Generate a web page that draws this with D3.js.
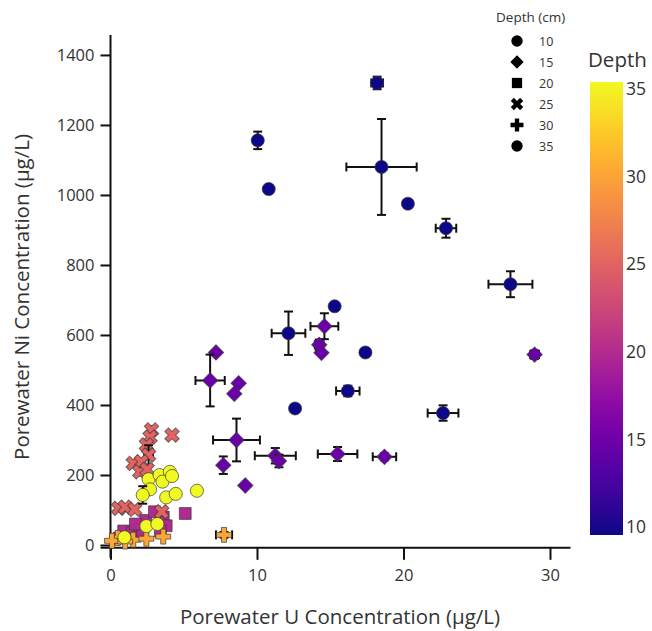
<!DOCTYPE html>
<html>
<head>
<meta charset="utf-8">
<script src="https://cdn.jsdelivr.net/npm/d3@7"></script>
<style>
  body { margin: 0; background: #fff; }
  svg { display: block; font-family: "Open Sans", "Noto Sans", sans-serif; }
</style>
</head>
<body>
<svg id="chart" width="652" height="631"></svg>
<script>
// ---- data: [U (µg/L), Ni (µg/L), U error, Ni error] ----
const depth10 = [
  [18.2, 1320, 0.4, 18], [10.05, 1156, 0, 25], [10.8, 1017, 0, 0], [18.5, 1080, 2.4, 137],
  [20.3, 975, 0, 0], [22.9, 905, 0.7, 27], [27.3, 745, 1.5, 37], [15.3, 682, 0, 0],
  [12.15, 605, 1.15, 62], [17.4, 550, 0, 0], [16.2, 440, 0.8, 15], [12.6, 390, 0, 0],
  [22.7, 377, 1.05, 22]
];
const depth15 = [
  [28.95, 544, 0.3, 12], [14.6, 625, 0.95, 37], [14.25, 572, 0.3, 15], [14.4, 549, 0, 0],
  [7.2, 550, 0, 0], [6.8, 470, 1.0, 74], [8.75, 462, 0, 0], [8.45, 432, 0, 0],
  [8.6, 300, 1.6, 61], [11.25, 255, 1.4, 22], [11.5, 240, 0, 18], [7.7, 228, 0, 25],
  [9.2, 170, 0, 0], [15.5, 260, 1.35, 20], [18.7, 252, 0.8, 10]
];
const depth20 = [
  [5.1, 90, 0, 0], [0.9, 40, 0, 0], [1.5, 35, 0, 0], [2.0, 55, 0, 0], [2.4, 70, 0, 0],
  [3.0, 95, 0, 0], [3.6, 80, 0, 0], [3.8, 55, 0, 0], [2.2, 30, 0, 0], [3.4, 40, 0, 0],
  [0.6, 20, 0, 0], [1.7, 60, 0, 0]
];
const depth25 = [
  [2.8, 329, 0, 10], [2.7, 308, 0, 0], [2.45, 286, 0, 0], [2.6, 257, 0.3, 28], [1.55, 233, 0, 0],
  [2.1, 238, 0, 0], [2.0, 209, 0, 0], [2.5, 216, 0, 0], [4.2, 314, 0, 0], [0.55, 105, 0, 0],
  [1.0, 108, 0, 0], [1.65, 102, 0, 0], [3.5, 95, 0, 0]
];
const depth30 = [
  [7.75, 29, 0.55, 8], [0.5, 20, 0, 0], [1.55, 15, 0, 0], [2.45, 18, 0, 0], [3.6, 24, 0, 0],
  [0.1, 12, 0, 0], [1.0, 10, 0, 0]
];
const depth35 = [
  [2.6, 188, 0, 0], [3.35, 200, 0, 0], [3.55, 181, 0, 0], [4.05, 209, 0, 0], [4.2, 197, 0, 0],
  [2.7, 159, 0, 0], [2.2, 143, 0, 25], [3.8, 136, 0, 0], [4.45, 146, 0, 0], [5.9, 155, 0.2, 10],
  [2.45, 54, 0, 0], [3.2, 60, 0, 0], [0.95, 22, 0, 0]
];
const depths = [10, 15, 20, 25, 30, 35];
const xTicks = [0, 10, 20, 30];
const yTicks = [0, 200, 400, 600, 800, 1000, 1200, 1400];
const colorTicks = [10, 15, 20, 25, 30, 35];
const legendLabels = ["10", "15", "20", "25", "30", "35"];

// ---- setup ----
const svg = d3.select("#chart");
const x = d3.scaleLinear().domain([0, 31.4]).range([110.5, 570.5]);
const y = d3.scaleLinear().domain([-8, 1457]).range([547.8, 35]);
const color = d3.scaleSequential(d3.interpolatePlasma).domain([10, 35]);

const shapeFor = {
  10: { type: d3.symbolCircle, size: 135, rot: 0 },
  15: { type: d3.symbolSquare, size: 118, rot: 45 },
  20: { type: d3.symbolSquare, size: 140, rot: 0 },
  25: { type: d3.symbolCross, size: 130, rot: 45 },
  30: { type: d3.symbolCross, size: 125, rot: 0 },
  35: { type: d3.symbolCircle, size: 135, rot: 0 }
};

// ---- axes ----
const axisColor = "#111";
const xAxis = svg.append("g").attr("transform", `translate(0,${y(-8)})`)
  .call(d3.axisBottom(x).tickValues(xTicks).tickFormat(d3.format("d")).tickSize(12).tickPadding(9));
const yAxis = svg.append("g").attr("transform", `translate(${x(0)},0)`)
  .call(d3.axisLeft(y).tickValues(yTicks).tickFormat(d3.format("d")).tickSize(10).tickPadding(6));
[xAxis, yAxis].forEach(g => {
  g.selectAll("path, line").attr("stroke", axisColor).attr("stroke-width", 2);
  g.selectAll("text").attr("font-size", 16.5).attr("fill", "#333")
    .attr("font-family", "'Open Sans', sans-serif");
});
xAxis.select(".domain").attr("d", `M${x(0) - 10},0H${x(31.4)}`);
yAxis.select(".domain").attr("d", `M0,${y(-8) + 10}V${y(1457)}`);

svg.append("text").attr("x", 340).attr("y", 624).attr("text-anchor", "middle")
  .attr("font-size", 20.5).attr("fill", "#333").text("Porewater U Concentration (µg/L)");
svg.append("text").attr("transform", "translate(29,297) rotate(-90)").attr("text-anchor", "middle")
  .attr("font-size", 20.5).attr("fill", "#333").text("Porewater Ni Concentration (µg/L)");

// ---- points ----
const groups = [depth10, depth15, depth20, depth25, depth30, depth35];
const plot = svg.append("g");
groups.forEach((arr, gi) => {
  const d = depths[gi];
  const sh = shapeFor[d];
  const g = plot.append("g");
  arr.forEach(p => {
    const [u, ni, ue, ne] = p;
    const cx = x(u), cy = y(ni);
    const eb = g.append("g").attr("stroke", "#111").attr("stroke-width", 2);
    if (ue > 0) {
      eb.append("line").attr("x1", x(u - ue)).attr("x2", x(u + ue)).attr("y1", cy).attr("y2", cy);
      [u - ue, u + ue].forEach(v => eb.append("line").attr("x1", x(v)).attr("x2", x(v))
        .attr("y1", cy - 4.5).attr("y2", cy + 4.5));
    }
    if (ne > 0) {
      eb.append("line").attr("x1", cx).attr("x2", cx).attr("y1", y(ni - ne)).attr("y2", y(ni + ne));
      [ni - ne, ni + ne].forEach(v => eb.append("line").attr("x1", cx - 4.5).attr("x2", cx + 4.5)
        .attr("y1", y(v)).attr("y2", y(v)));
    }
    g.append("path")
      .attr("d", d3.symbol().type(sh.type).size(sh.size)())
      .attr("transform", `translate(${cx},${cy}) rotate(${sh.rot})`)
      .attr("fill", color(d))
      .attr("stroke", "#3a3a3a").attr("stroke-opacity", 0.7).attr("stroke-width", 1);
  });
});

// ---- symbol legend ----
svg.append("text").attr("x", 496).attr("y", 22).attr("font-size", 13.5).attr("fill", "#333")
  .text("Depth (cm)");
depths.forEach((d, i) => {
  const yy = 41 + i * 21;
  const sh = shapeFor[d];
  svg.append("path")
    .attr("d", d3.symbol().type(sh.type).size(sh.size * 0.75)())
    .attr("transform", `translate(517,${yy}) rotate(${sh.rot})`)
    .attr("fill", "#000");
  svg.append("text").attr("x", 539).attr("y", yy + 4.5).attr("font-size", 12.5).attr("fill", "#333")
    .text(legendLabels[i]);
});

// ---- colorbar ----
const cbTop = 82, cbBot = 535, cbX = 590, cbW = 33;
const defs = svg.append("defs");
const grad = defs.append("linearGradient").attr("id", "cbgrad")
  .attr("x1", 0).attr("y1", 1).attr("x2", 0).attr("y2", 0);
d3.range(0, 1.0001, 0.05).forEach(t => {
  grad.append("stop").attr("offset", t).attr("stop-color", d3.interpolatePlasma(t));
});
svg.append("rect").attr("x", cbX).attr("y", cbTop).attr("width", cbW).attr("height", cbBot - cbTop)
  .attr("fill", "url(#cbgrad)");
const cbScale = d3.scaleLinear().domain([10, 35]).range([527, 89]);
colorTicks.forEach(t => {
  svg.append("text").attr("x", 626).attr("y", cbScale(t)).attr("dy", "0.35em")
    .attr("font-size", 17.5).attr("fill", "#333").text(t);
});
svg.append("text").attr("x", 588).attr("y", 67).attr("font-size", 20.5).attr("fill", "#333").text("Depth");
</script>
</body>
</html>
